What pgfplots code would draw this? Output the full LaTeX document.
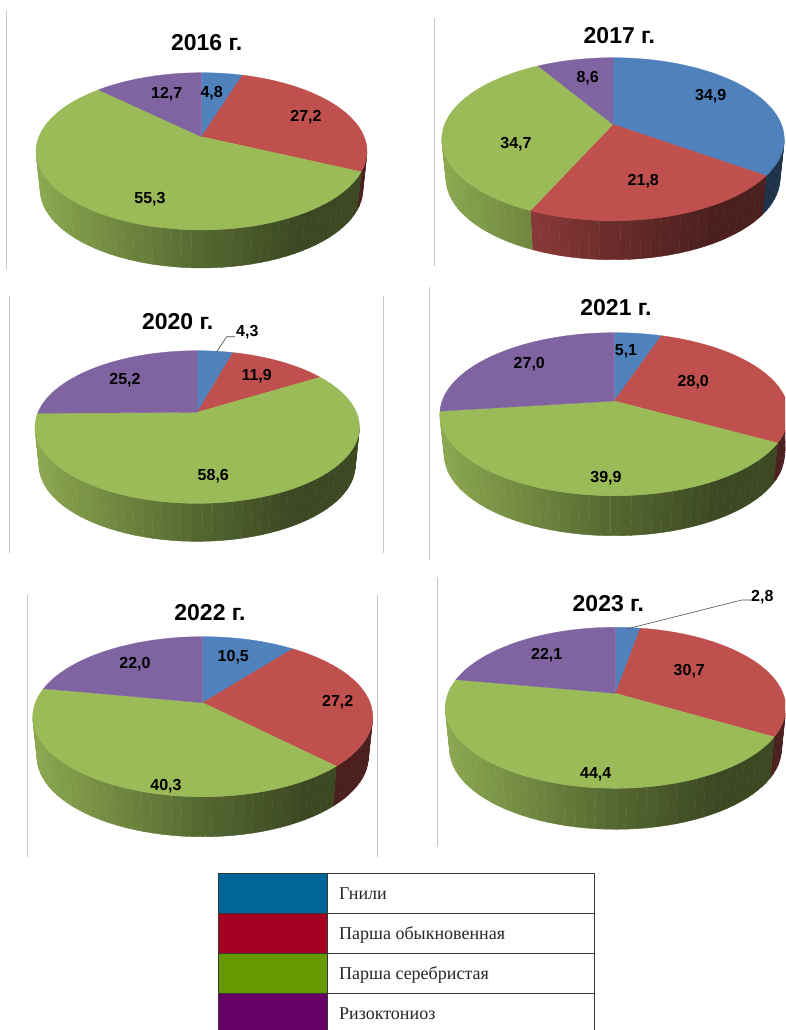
\documentclass[border=0pt]{standalone}
\usepackage{fontspec}
\setmainfont{Liberation Sans}
\newfontfamily\legfont{Liberation Serif}
\usepackage{pgfplots}
\pgfplotsset{compat=1.18}

\definecolor{pieblue}{RGB}{79,129,189}
\definecolor{piered}{RGB}{192,80,77}
\definecolor{piegreen}{RGB}{155,187,89}
\definecolor{piepurple}{RGB}{128,100,162}
\definecolor{legblue}{RGB}{0,102,153}
\definecolor{legred}{RGB}{165,0,33}
\definecolor{leggreen}{RGB}{102,153,0}
\definecolor{legpurple}{RGB}{102,0,102}
\definecolor{framegray}{RGB}{200,200,200}
\definecolor{legline}{RGB}{55,55,55}

% geometry of one pie: centre x, apex y, radius x, radius y, perspective, wall height
\newcommand{\setpie}[6]{%
  \def\pCx{#1}\def\pAy{#2}\def\pR{#3}\def\pS{#4}\def\pP{#5}\def\pH{#6}%
  \pgfmathsetmacro\pRw{#3/sqrt(1-#5*#5)}%
  \pgfmathsetmacro\thL{acos(-#5)}%
  \pgfmathsetmacro\thR{360-\thL}%
}
% rim point at angle #1, clockwise from the top
\newcommand{\rimpoint}[1]{%
  \pgfmathsetmacro\pw{1+\pP*cos(#1)}%
  \pgfmathsetmacro\ptx{\pCx+\pR*sin(#1)/\pw}%
  \pgfmathsetmacro\pty{\pAy-\pS*cos(#1)/\pw}%
}
\newcommand{\lowpoint}{%
  \pgfmathsetmacro\lox{\pCx+0.975*(\ptx-\pCx)}%
  \pgfmathsetmacro\loy{\pty+\pH}%
}
% top face of a slice: colour, from %, to %
\newcommand{\pietop}[3]{%
  \pgfmathsetmacro\thA{#2*3.6}%
  \pgfmathsetmacro\thB{#3*3.6}%
  \pgfmathtruncatemacro\nn{ceil((\thB-\thA)/3)+1}%
  \xdef\ptlist{(\pCx,\pAy)}%
  \foreach \i in {0,...,\nn}{%
    \pgfmathsetmacro\th{\thA+(\thB-\thA)*\i/\nn}%
    \rimpoint{\th}%
    \xdef\ptlist{\ptlist (\ptx,\pty)}%
  }%
  \edef\tmp{\noexpand\addplot[fill=#1,draw=#1,line width=0.3pt] coordinates {\ptlist} -- cycle;}\tmp
}
% outer wall of a slice, in thin strips that darken to the right
\newcommand{\piewall}[3]{%
  \pgfmathsetmacro\thA{max(#2*3.6,\thL)}%
  \pgfmathsetmacro\thB{min(#3*3.6,\thR)}%
  \pgfmathtruncatemacro\has{\thB>\thA?1:0}%
  \ifnum\has=1
    \pgfmathtruncatemacro\nn{ceil((\thB-\thA)/3)}%
    \foreach \i in {1,...,\nn}{%
      \pgfmathsetmacro\tha{\thA+(\thB-\thA)*(\i-1)/\nn}%
      \pgfmathsetmacro\thb{\thA+(\thB-\thA)*\i/\nn}%
      \rimpoint{\tha}\lowpoint
      \edef\pa{(\ptx,\pty)}\edef\pd{(\lox,\loy)}\let\xa\ptx
      \rimpoint{\thb}\lowpoint
      \edef\pb{(\ptx,\pty)}\edef\pc{(\lox,\loy)}%
      \pgfmathsetmacro\wt{((\xa+\ptx)/2-\pCx+\pRw)/(2*\pRw)}%
      \pgfmathsetmacro\pct{100*max(0.385,(\wt<0.5)?(0.9-0.7*\wt):(0.55-0.55*(\wt-0.5)))}%
      \edef\tmp{\noexpand\addplot[fill=#1!\pct!black,draw=#1!\pct!black,line width=0.4pt] coordinates {\pa \pb \pc \pd} -- cycle;}\tmp
    }%
  \fi
}
% the four shares of one year, in per cent
\newcommand{\piechart}[4]{%
  \pgfmathsetmacro\cA{#1}%
  \pgfmathsetmacro\cB{#1+#2}%
  \pgfmathsetmacro\cC{#1+#2+#3}%
  \piewall{pieblue}{0}{\cA}%
  \piewall{piered}{\cA}{\cB}%
  \piewall{piegreen}{\cB}{\cC}%
  \piewall{piepurple}{\cC}{100}%
  \pgfmathsetmacro\cA{#1}%
  \pgfmathsetmacro\cB{#1+#2}%
  \pgfmathsetmacro\cC{#1+#2+#3}%
  \pietop{pieblue}{0}{\cA}%
  \pietop{piered}{\cA}{\cB}%
  \pietop{piegreen}{\cB}{\cC}%
  \pietop{piepurple}{\cC}{100}%
}

\tikzset{
  ttl/.style={font=\fontsize{23}{25}\selectfont\bfseries,inner sep=0pt},
  lbl/.style={font=\fontsize{16}{18}\selectfont\bfseries,inner sep=0pt},
  leg/.style={font=\legfont\fontsize{18}{20}\selectfont,inner sep=0pt,anchor=base west,text=black!85},
}

\begin{document}
\begin{tikzpicture}
\begin{axis}[
  width=785pt,height=1030pt,
  scale only axis,
  hide axis,
  xmin=0,xmax=785,ymin=0,ymax=1030,
  y dir=reverse,
]
\addplot[fill=white,draw=none] coordinates {(0,0) (785,0) (785,1030) (0,1030)} -- cycle;

% chart frame remnants
\addplot[framegray,line width=0.9pt] coordinates {(6.5,10) (6.5,270)};
\addplot[framegray,line width=0.9pt] coordinates {(434.5,18) (434.5,266)};
\addplot[framegray,line width=0.9pt] coordinates {(9.5,296) (9.5,553)};
\addplot[framegray,line width=0.9pt] coordinates {(383.5,296) (383.5,553)};
\addplot[framegray,line width=0.9pt] coordinates {(429.5,287) (429.5,560)};
\addplot[framegray,line width=0.9pt] coordinates {(27.5,595) (27.5,857)};
\addplot[framegray,line width=0.9pt] coordinates {(377.5,595) (377.5,857)};
\addplot[framegray,line width=0.9pt] coordinates {(437.5,577) (437.5,847)};

% 2016
\setpie{201.5}{136.7}{162.6}{75.9}{0.186}{38}
\piechart{4.8}{27.2}{55.3}{12.7}
\node[ttl] at (206.7,42.3) {2016 г.};
\node[lbl] at (211.7,93.3) {4,8};
\node[lbl] at (306,116.7) {27,2};
\node[lbl] at (150,199) {55,3};
\node[lbl] at (166.7,94.3) {12,7};

% 2017
\setpie{613}{124.3}{168.4}{78.8}{0.183}{39}
\piechart{34.9}{21.8}{34.7}{8.6}
\node[ttl] at (619.3,36) {2017 г.};
\node[lbl] at (710.7,95.7) {34,9};
\node[lbl] at (643.3,181) {21,8};
\node[lbl] at (516,144.3) {34,7};
\node[lbl] at (587.7,78.3) {8,6};

% 2020
\setpie{197.2}{412.3}{159.2}{73.5}{0.193}{38}
\piechart{4.3}{11.9}{58.6}{25.2}
\node[ttl] at (177.7,321.7) {2020 г.};
\addplot[black!70,line width=0.6pt] coordinates {(216,352.7) (226.7,336.7) (235,336.7)};
\node[lbl] at (247.3,332.3) {4,3};
\node[lbl] at (256.7,375.7) {11,9};
\node[lbl] at (213.3,475.7) {58,6};
\node[lbl] at (125,380) {25,2};

% 2021
\setpie{614.3}{401}{172.2}{79.4}{0.162}{40}
\piechart{5.1}{28.0}{39.9}{27.0}
\node[ttl] at (616,307.7) {2021 г.};
\node[lbl] at (626,351.7) {5,1};
\node[lbl] at (693.3,381.7) {28,0};
\node[lbl] at (606,477.7) {39,9};
\node[lbl] at (529.3,364.3) {27,0};

% 2022
\setpie{202.7}{702.7}{167.4}{77.6}{0.175}{40}
\piechart{10.5}{27.2}{40.3}{22.0}
\node[ttl] at (210,612.3) {2022 г.};
\node[lbl] at (233.3,657.3) {10,5};
\node[lbl] at (337.7,701.7) {27,2};
\node[lbl] at (166,786) {40,3};
\node[lbl] at (135,664.3) {22,0};

% 2023
\setpie{615.5}{693.3}{167.5}{77.9}{0.180}{41}
\piechart{2.8}{30.7}{44.4}{22.1}
\node[ttl] at (608.3,603.3) {2023 г.};
\addplot[black!70,line width=0.6pt] coordinates {(627.7,628.7) (741.7,600) (751,600)};
\node[lbl] at (762.3,596.7) {2,8};
\node[lbl] at (689.3,671) {30,7};
\node[lbl] at (595.7,774.3) {44,4};
\node[lbl] at (546.7,655) {22,1};

% legend table
\addplot[fill=legblue,draw=none] coordinates {(218.5,873) (327.5,873) (327.5,913) (218.5,913)} -- cycle;
\addplot[fill=legred,draw=none] coordinates {(218.5,913) (327.5,913) (327.5,953) (218.5,953)} -- cycle;
\addplot[fill=leggreen,draw=none] coordinates {(218.5,953) (327.5,953) (327.5,993) (218.5,993)} -- cycle;
\addplot[fill=legpurple,draw=none] coordinates {(218.5,993) (327.5,993) (327.5,1030) (218.5,1030)} -- cycle;
\addplot[legline,line width=1pt] coordinates {(218.5,1030) (218.5,873) (594,873) (594,1030)};
\addplot[legline,line width=1pt] coordinates {(327.5,873) (327.5,1030)};
\addplot[legline,line width=1pt] coordinates {(218.5,913) (594,913)};
\addplot[legline,line width=1pt] coordinates {(218.5,953) (594,953)};
\addplot[legline,line width=1pt] coordinates {(218.5,993) (594,993)};
\node[leg] at (339,899) {Гнили};
\node[leg] at (339,939) {Парша обыкновенная};
\node[leg] at (339,979) {Парша серебристая};
\node[leg] at (339,1019) {Ризоктониоз};
\end{axis}
\end{tikzpicture}
\end{document}
